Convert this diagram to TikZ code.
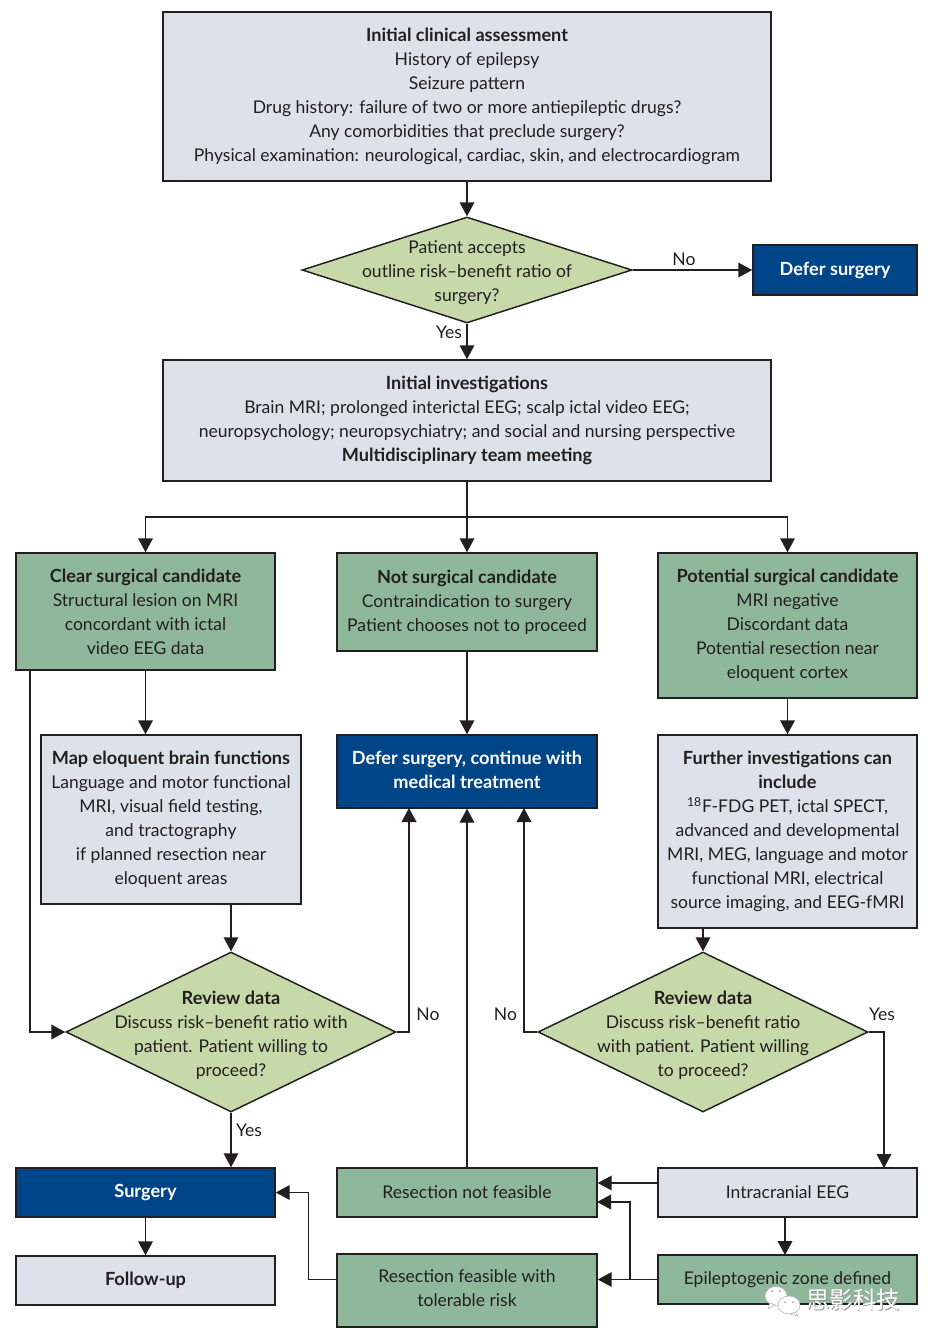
\documentclass[tikz,border=0pt]{standalone}
\usepackage{fontspec}
\setmainfont{Lato}
\newfontfamily\cjkwm{Noto Sans CJK SC}
\usetikzlibrary{arrows.meta}
\usetikzlibrary{shapes.geometric}
\usetikzlibrary{calc}
\definecolor{boxgrey}{HTML}{DDE1EA}
\definecolor{boxgreen}{HTML}{8FB89A}
\definecolor{boxlime}{HTML}{C6D9A8}
\definecolor{boxnavy}{HTML}{004587}
\definecolor{inkline}{HTML}{231F20}
\newcommand{\hd}[1]{{\fontsize{13.6}{18}\selectfont\bfseries #1}}
\tikzset{
	wh/.style 2 args={minimum width=#1*0.75pt,minimum height=#2*0.75pt},
	card/.style={rectangle,draw=inkline,line width=1.1pt,align=center,inner sep=0pt,text=inkline,font=\fontsize{13.15}{18}\selectfont},
	greycard/.style={card,fill=boxgrey},
	greencard/.style={card,fill=boxgreen},
	navycard/.style={card,fill=boxnavy,text=white,font=\fontsize{13.6}{18}\selectfont\bfseries},
	query/.style={diamond,draw=inkline,line width=1.1pt,fill=boxlime,inner sep=0pt,aspect=2},
	querytext/.style={align=center,inner sep=0pt,text=inkline,yshift=-2.25pt,font=\fontsize{13.15}{18}\selectfont},
	answer/.style={inner sep=0pt,text=inkline,font=\fontsize{13.15}{18}\selectfont},
	flow/.style={draw=inkline,line width=1.1pt,-{Triangle[length=10.5pt,width=11pt]}},
	plain/.style={draw=inkline,line width=1.1pt}
}
\begin{document}
\begin{tikzpicture}[x=0.75pt,y=-0.75pt]
	\useasboundingbox (0,0) rectangle (930,1342);

	\node[greycard,wh={608}{169}] (assess) at (467,96.5) {\hd{Initial clinical assessment}\\History of epilepsy\\Seizure pattern\\Drug history: failure of two or more antiepileptic drugs?\\Any comorbidities that preclude surgery?\\Physical examination: neurological, cardiac, skin, and electrocardiogram};
	\node[query,wh={330}{106},label={[querytext]center:{Patient accepts\\outline risk–benefit ratio of\\surgery?}}] (accept) at (467,270) {};
	\node[navycard,wh={164}{50}] (defer) at (835,270) {Defer surgery};
	\node[greycard,wh={608}{121}] (initial) at (467,420.5) {\hd{Initial investigations}\\Brain MRI; prolonged interictal EEG; scalp ictal video EEG;\\neuropsychology; neuropsychiatry; and social and nursing perspective\\\hd{Multidisciplinary team meeting}};

	\node[greencard,wh={259}{117}] (clear) at (145.5,611.5) {\hd{Clear surgical candidate}\\Structural lesion on MRI\\concordant with ictal\\video EEG data};
	\node[greencard,wh={260}{98}] (notcand) at (467,602) {\hd{Not surgical candidate}\\Contraindication to surgery\\Patient chooses not to proceed};
	\node[greencard,wh={259}{145}] (potential) at (787.5,625.5) {\hd{Potential surgical candidate}\\MRI negative\\Discordant data\\Potential resection near\\eloquent cortex};

	\node[greycard,wh={260}{169}] (mapping) at (171,819.5) {\hd{Map eloquent brain functions}\\Language and motor functional\\MRI, visual field testing,\\and tractography\\if planned resection near\\eloquent areas};
	\node[navycard,wh={260}{73},text depth=3pt] (medical) at (467,771.5) {Defer surgery, continue with\\medical treatment};
	\node[greycard,wh={259}{193}] (further) at (787.5,831.5) {\hd{Further investigations can}\\\hd{include}\\\textsuperscript{18}F-FDG PET, ictal SPECT,\\advanced and developmental\\MRI, MEG, language and motor\\functional MRI, electrical\\source imaging, and EEG-fMRI};

	\node[query,wh={330}{160},label={[querytext]center:{\hd{Review data}\\Discuss risk–benefit ratio with\\patient. Patient willing to\\proceed?}}] (reviewa) at (231,1032) {};
	\node[query,wh={330}{160},label={[querytext]center:{\hd{Review data}\\Discuss risk–benefit ratio\\with patient. Patient willing\\to proceed?}}] (reviewb) at (703,1032) {};

	\node[navycard,wh={259}{49}] (surgery) at (145.5,1192.5) {Surgery};
	\node[greycard,wh={259}{49}] (followup) at (145.5,1280.5) {\hd{Follow-up}};
	\node[greencard,wh={260}{49}] (notfeasible) at (467,1192.5) {Resection not feasible};
	\node[greencard,wh={260}{73},text depth=3pt] (feasible) at (467,1290.5) {Resection feasible with\\tolerable risk};
	\node[greycard,wh={259}{49}] (intracranial) at (787.5,1192.5) {Intracranial EEG};
	\node[greencard,wh={259}{49}] (zone) at (787.5,1279.5) {Epileptogenic zone defined};

	\draw[flow] (assess.south) -- (accept.north);
	\draw[flow] (accept.south) -- (initial.north);
	\node[answer] (yesa) at (449,332) {Yes};
	\draw[flow] (accept.east) -- (defer.west);
	\node[answer] (noa) at (684,259) {No};

	\coordinate (fork) at (467,517);
	\draw[plain] (initial.south) -- (fork);
	\draw[flow] (fork) -- (notcand.north);
	\draw[flow] (fork) -| (clear.north);
	\draw[flow] (fork) -| (potential.north);

	\draw[flow] (clear.south) -- (clear.south |- mapping.north);
	\draw[flow] (notcand.south) -- (medical.north);
	\draw[flow] (potential.south) -- (potential.south |- further.north);

	% side route past the map box
	\coordinate (sidestart) at (30,670);
	\draw[flow] (sidestart) |- (reviewa.west);

	\draw[flow] (reviewa.north |- mapping.south) -- (reviewa.north);
	\draw[flow] (reviewb.north |- further.south) -- (reviewb.north);

	\coordinate (backa) at (409,808);
	\coordinate (backb) at (524,808);
	\draw[flow] (reviewa.east) -| (backa);
	\draw[flow] (reviewb.west) -| (backb);
	\draw[flow] (notfeasible.north) -- (medical.south);
	\node[answer] (noleft) at (428,1014) {No};
	\node[answer] (noright) at (505.5,1014) {No};

	\draw[flow] (reviewa.south) -- (reviewa.south |- surgery.north);
	\node[answer] (yesleft) at (249,1130) {Yes};
	\coordinate (yesdrop) at (884,1168);
	\draw[flow] (reviewb.east) -| (yesdrop);
	\node[answer] (yesright) at (882,1014) {Yes};

	\draw[flow] (surgery.south) -- (followup.north);
	\draw[flow] (feasible.west |- zone.west) -- ++(-28,0) |- (surgery.east);

	\coordinate (inone) at (658,1183);
	\draw[flow] (inone) -- (inone -| notfeasible.east);
	\draw[flow] (zone.west) -- (zone.west -| feasible.east);
	\coordinate (branch) at (630,1279.5);
	\coordinate (intwo) at (597,1202);
	\draw[flow] (branch) |- (intwo);
	\coordinate (zonein) at (785,1255);
	\draw[flow] (zonein |- intracranial.south) -- (zonein);

	% watermark
	\filldraw[white,draw=gray!60,line width=.4pt] (776,1296) ellipse [x radius=11,y radius=9.5];
	\filldraw[white,draw=gray!60,line width=.4pt] (770,1303) -- (768,1309) -- (775,1305) -- cycle;
	\filldraw[white,draw=gray!60,line width=.4pt] (789,1305) ellipse [x radius=11,y radius=9];
	\filldraw[white,draw=gray!60,line width=.4pt] (795,1312) -- (798,1316) -- (790,1314) -- cycle;
	\fill[gray!70] (772,1291) circle (1.2) (780,1291) circle (1.2) (785,1302) circle (1) (793,1302) circle (1);
	\node[inner sep=0pt,text=gray!80,font=\cjkwm\fontsize{17.5}{20}\selectfont] (markshade) at (853.7,1300.7) {思影科技};
	\node[inner sep=0pt,text=white,font=\cjkwm\fontsize{17.5}{20}\selectfont] (mark) at (853,1300) {思影科技};
\end{tikzpicture}
\end{document}
